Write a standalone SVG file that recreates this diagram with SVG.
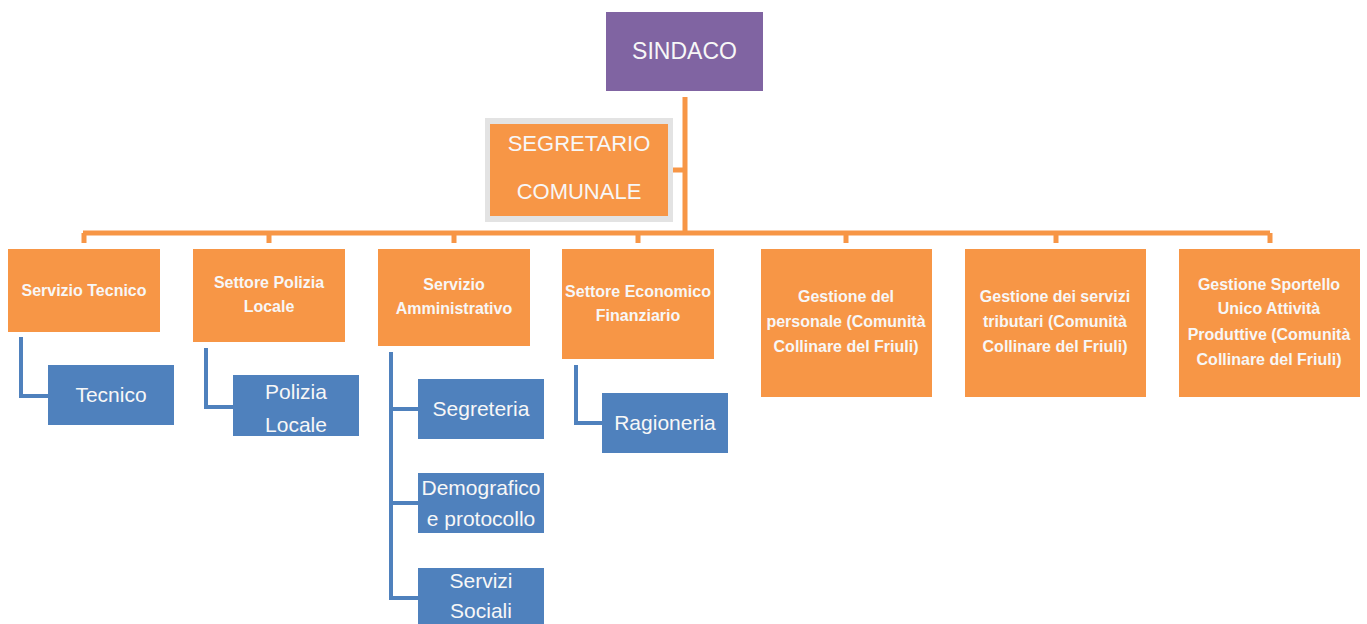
<svg xmlns="http://www.w3.org/2000/svg" width="1367" height="624" viewBox="0 0 1367 624">
<style>
.o{fill:#F79646}
.b{fill:#4F81BD}
.p{fill:#8064A2}
text{font-family:"Liberation Sans",Arial,sans-serif;fill:#F7F7F7;text-anchor:middle}
.ot{font-size:16px;font-weight:bold}
.bt{font-size:21px}
.big{font-size:22px}
.ol{stroke:#F79646;stroke-width:5;fill:none}
.bl{stroke:#4F81BD;stroke-width:4;fill:none}
</style>
<rect width="1367" height="624" fill="#fff"/>
<g id="connectors">
<path class="ol" d="M685 97V233M673 170H685M83 233H1270M84 233V243M269 233V243M454 233V243M638 233V243M846 233V243M1056 233V243M1270 233V243"/>
<path class="bl" d="M21 337V396H48M206 348V407H233M391 352V598H418M391 409H418M391 503H418M576 365V423H602"/>
</g>
<g id="sindaco"><rect class="p" x="606" y="12" width="157" height="79"/><text class="big" x="684.5" y="59" style="font-size:23px">SINDACO</text></g>
<g id="segretario"><rect x="485" y="118" width="188" height="104" fill="#E3E3E3"/><rect class="o" x="490" y="124" width="178" height="92"/><text class="big" x="579" y="151">SEGRETARIO</text><text class="big" x="579" y="199">COMUNALE</text></g>
<g id="servizio-tecnico"><rect class="o" x="8" y="249" width="152" height="83"/><text class="ot" x="84" y="296">Servizio Tecnico</text></g>
<g id="settore-polizia"><rect class="o" x="193" y="249" width="152" height="93"/><text class="ot" x="269" y="288">Settore Polizia</text><text class="ot" x="269" y="312">Locale</text></g>
<g id="servizio-amministrativo"><rect class="o" x="378" y="249" width="152" height="97"/><text class="ot" x="454" y="290">Servizio</text><text class="ot" x="454" y="314">Amministrativo</text></g>
<g id="settore-economico"><rect class="o" x="562" y="249" width="152" height="110"/><text class="ot" x="638" y="297">Settore Economico</text><text class="ot" x="638" y="321">Finanziario</text></g>
<g id="gestione-personale"><rect class="o" x="761" y="249" width="171" height="148"/><text class="ot" x="846" y="302">Gestione del</text><text class="ot" x="846" y="327">personale (Comunità</text><text class="ot" x="846" y="352">Collinare del Friuli)</text></g>
<g id="gestione-tributari"><rect class="o" x="965" y="249" width="181" height="148"/><text class="ot" x="1055" y="302">Gestione dei servizi</text><text class="ot" x="1055" y="327">tributari (Comunità</text><text class="ot" x="1055" y="352">Collinare del Friuli)</text></g>
<g id="gestione-sportello"><rect class="o" x="1179" y="249" width="181" height="148"/><text class="ot" x="1269" y="290">Gestione Sportello</text><text class="ot" x="1269" y="314">Unico Attività</text><text class="ot" x="1269" y="340">Produttive (Comunità</text><text class="ot" x="1269" y="365">Collinare del Friuli)</text></g>
<g id="tecnico"><rect class="b" x="48" y="365" width="126" height="60"/><text class="bt" x="111" y="402">Tecnico</text></g>
<g id="polizia-locale"><rect class="b" x="233" y="375" width="126" height="61"/><text class="bt" x="296" y="399">Polizia</text><text class="bt" x="296" y="432">Locale</text></g>
<g id="segreteria"><rect class="b" x="418" y="379" width="126" height="60"/><text class="bt" x="481" y="416">Segreteria</text></g>
<g id="demografico"><rect class="b" x="418" y="473" width="126" height="60"/><text class="bt" x="481" y="495">Demografico</text><text class="bt" x="481" y="526">e protocollo</text></g>
<g id="servizi-sociali"><rect class="b" x="418" y="568" width="126" height="60"/><text class="bt" x="481" y="588">Servizi</text><text class="bt" x="481" y="618">Sociali</text></g>
<g id="ragioneria"><rect class="b" x="602" y="393" width="126" height="60"/><text class="bt" x="665" y="430">Ragioneria</text></g>
</svg>
